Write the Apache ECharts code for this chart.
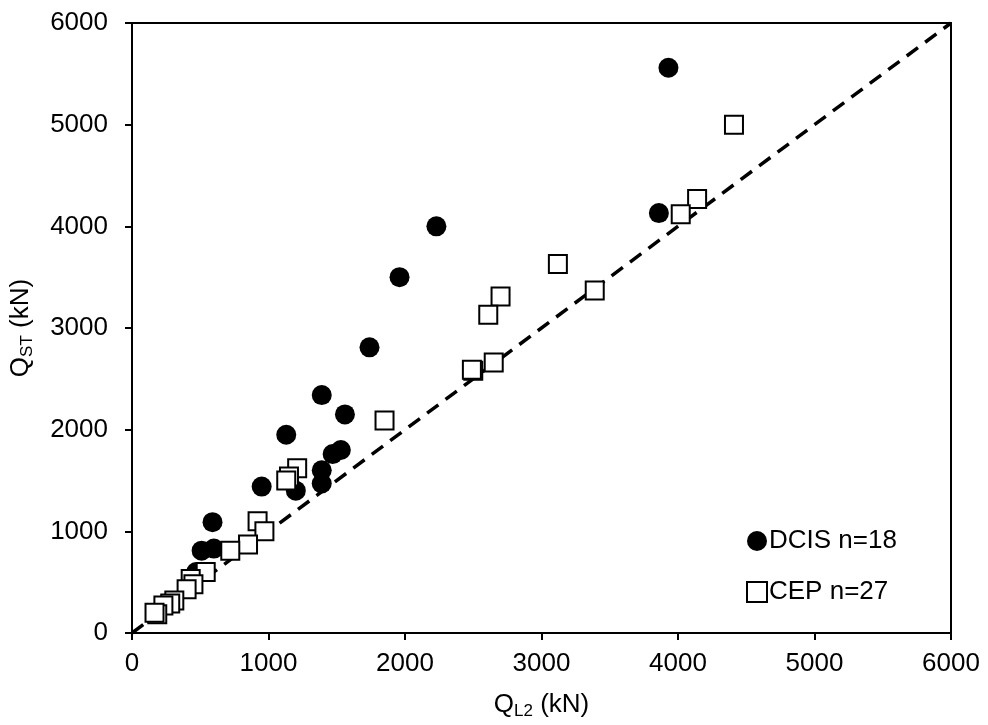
<!DOCTYPE html>
<html>
<head>
<meta charset="utf-8">
<script src="https://cdn.jsdelivr.net/npm/echarts@6/dist/echarts.min.js"></script>
<style>
html,body{margin:0;padding:0;background:#fff;}
#chart{width:988px;height:725px;}
</style>
</head>
<body>
<div id="chart"></div>
<script>
// Axis ticks
const xTicks = [0, 1000, 2000, 3000, 4000, 5000, 6000];
const yTicks = [0, 1000, 2000, 3000, 4000, 5000, 6000];

// DCIS series (filled circles)
const dcisX = [3930, 3860, 2230, 1960, 1740, 1390, 1560, 1130, 1470, 1530, 1390, 1390, 1200, 950, 590, 510, 600, 470];
const dcisY = [5560, 4130, 4000, 3500, 2810, 2340, 2150, 1950, 1760, 1800, 1600, 1470, 1400, 1440, 1090, 810, 830, 600];

// CEP series (open squares)
const cepX = [4410, 4140, 4020, 3390, 3120, 2700, 2610, 2650, 2500, 2490, 1850, 1210, 1150, 1130, 920, 970, 850, 720, 540, 430, 450, 400, 310, 280, 230, 185, 165];
const cepY = [5000, 4270, 4120, 3370, 3630, 3310, 3130, 2660, 2580, 2590, 2090, 1620, 1540, 1500, 1100, 1000, 870, 810, 600, 530, 480, 430, 320, 290, 270, 185, 200];

// 1:1 reference line
const lineX = [0, 6000];
const lineY = [0, 6000];

const dcisName = 'DCIS n=18';
const cepName = 'CEP n=27';

const zip = (a, b) => a.map((v, i) => [v, b[i]]);

const FONT = 'Liberation Sans, Arial, sans-serif';
const chart = echarts.init(document.getElementById('chart'), null, {renderer: 'canvas'});

const axisCommon = {
  type: 'value',
  min: 0, max: 6000, interval: 1000,
  axisLine: {show: true, onZero: false, lineStyle: {color: '#000', width: 2}},
  axisTick: {show: true, inside: false, length: 7, lineStyle: {color: '#000', width: 2}},
  splitLine: {show: false},
  nameLocation: 'middle'
};

chart.setOption({
  animation: false,
  backgroundColor: '#fff',
  grid: {left: 129, right: 37, top: 23, bottom: 92, show: true, borderColor: '#000', borderWidth: 2, backgroundColor: 'transparent'},
  xAxis: Object.assign({}, axisCommon, {
    axisLabel: {color: '#000', fontSize: 26, fontFamily: FONT, margin: 18,
      formatter: v => xTicks.includes(v) ? String(v) : ''},
    name: '{a|Q}{b|L2}{a| (kN)}',
    nameGap: 57,
    nameTextStyle: {
      rich: {
        a: {fontSize: 26, fontFamily: FONT, color: '#000'},
        b: {fontSize: 17, fontFamily: FONT, color: '#000', padding: [13, 0, 0, 0]}
      }
    }
  }),
  yAxis: Object.assign({}, axisCommon, {
    axisLabel: {color: '#000', fontSize: 26, fontFamily: FONT, margin: 24,
      formatter: v => yTicks.includes(v) ? String(v) : ''},
    name: '{a|Q}{b|ST}{a| (kN)}',
    nameGap: 96,
    nameTextStyle: {
      rich: {
        a: {fontSize: 26, fontFamily: FONT, color: '#000'},
        b: {fontSize: 17, fontFamily: FONT, color: '#000', padding: [13, 0, 0, 0]}
      }
    }
  }),
  legend: {
    orient: 'vertical',
    left: 741, top: 523,
    padding: 5,
    itemGap: 25,
    itemWidth: 20, itemHeight: 20,
    textStyle: {fontSize: 26, fontFamily: FONT, color: '#000', padding: [0, 0, 0, -3]},
    data: [
      {name: dcisName, icon: 'circle'},
      {name: cepName, icon: 'rect'}
    ]
  },
  series: [
    {
      type: 'line',
      data: zip(lineX, lineY),
      symbol: 'none',
      silent: true,
      lineStyle: {color: '#000', width: 3.5, type: [14, 9]},
      z: 1
    },
    {
      name: dcisName,
      type: 'scatter',
      data: zip(dcisX, dcisY),
      symbol: 'circle',
      symbolSize: 20,
      itemStyle: {color: '#000', opacity: 1},
      z: 2
    },
    {
      name: cepName,
      type: 'scatter',
      data: zip(cepX, cepY),
      symbol: 'rect',
      symbolSize: 18,
      itemStyle: {color: '#fff', borderColor: '#000', borderWidth: 2, opacity: 1},
      z: 3
    }
  ]
});
</script>
</body>
</html>
